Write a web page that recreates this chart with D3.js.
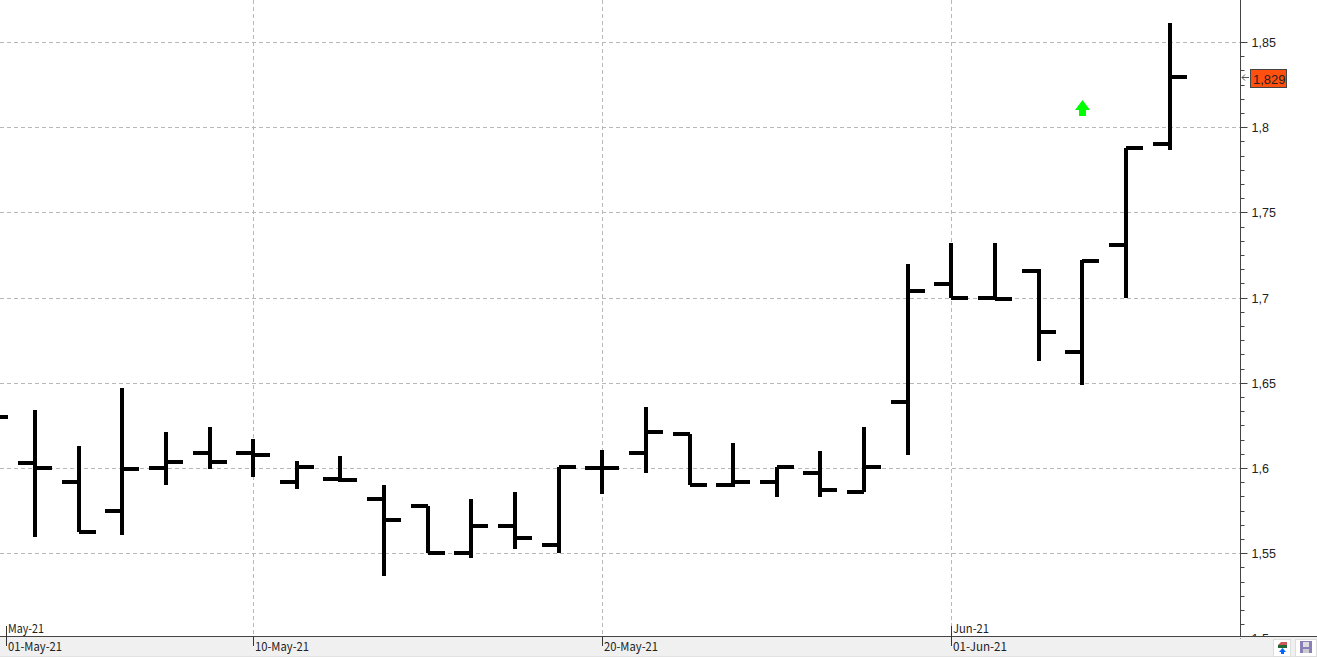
<!DOCTYPE html>
<html><head><meta charset="utf-8">
<script src="https://cdn.jsdelivr.net/npm/d3@7/dist/d3.min.js"></script>
<style>
html,body{margin:0;padding:0;background:#fff;overflow:hidden}
svg{display:block}
.y text{font:12.5px "Liberation Sans",Arial,sans-serif;fill:#222}
.d{font:12px "Noto Sans CJK KR","DejaVu Sans",sans-serif;fill:#222}
</style></head><body>
<svg id="c" width="1317" height="657"></svg>
<script>
const dates=["30-Apr","03-May","04-May","05-May","06-May","07-May","10-May","11-May","12-May","13-May","14-May","17-May","18-May","19-May","20-May","21-May","24-May","25-May","26-May","27-May","28-May","31-May","01-Jun","02-Jun","03-Jun","04-Jun","07-Jun","08-Jun"];
const opens=[1.63,1.603,1.592,1.575,1.6,1.609,1.609,1.592,1.5935,1.582,1.578,1.55,1.566,1.555,1.6,1.609,1.62,1.59,1.592,1.597,1.586,1.639,1.708,1.7,1.716,1.6685,1.731,1.7905];
const highs=[1.63,1.634,1.613,1.647,1.621,1.624,1.617,1.604,1.607,1.59,1.578,1.582,1.586,1.601,1.611,1.636,1.62,1.615,1.601,1.61,1.624,1.72,1.732,1.732,1.717,1.722,1.788,1.861];
const lows=[1.63,1.5596,1.5625,1.561,1.59,1.5995,1.595,1.588,1.592,1.5367,1.55,1.5475,1.5525,1.55,1.585,1.597,1.59,1.589,1.583,1.583,1.586,1.608,1.7,1.7,1.663,1.649,1.7,1.787];
const closes=[1.63,1.6,1.5625,1.5995,1.6035,1.6035,1.6075,1.601,1.593,1.5695,1.55,1.566,1.559,1.601,1.6,1.621,1.59,1.592,1.601,1.5875,1.601,1.704,1.7,1.6995,1.68,1.7215,1.788,1.8295];
const yMajor=[1.5,1.55,1.6,1.65,1.7,1.75,1.8,1.85];
const xGridDates=["10-May","20-May","01-Jun"];
const lowerLabels=[["01-May-21","03-May"],["10-May-21","10-May"],["20-May-21","20-May"],["01-Jun-21","01-Jun"]];
const upperLabels=[["May-21","03-May"],["Jun-21","01-Jun"]];
const lastValue="1,829";

const fmt=d=>String(d).replace(".",",");
const svg=d3.select("#c");
const axisX=1240.5, baseY=636.5;
const x=d3.scaleLinear().domain([0,dates.length-1]).range([-8.7,1169.6]);
const y=d3.scaleLinear().domain([1.5,1.85]).range([638.4,41.9]);
const ry=v=>Math.round(y(v));
const my=v=>Math.round(y(v)+0.3);
const xd=d=>Math.round(x(dates.indexOf(d)));
const firstTickX=6;
const tx=d=>d==="03-May"?firstTickX:xd(d);

svg.append("defs").append("clipPath").attr("id","p").append("rect").attr("x",0).attr("y",0).attr("width",1240).attr("height",636);

// grid
svg.append("g").selectAll("line").data(yMajor.slice(1)).join("line")
 .attr("x1",0).attr("x2",axisX).attr("y1",d=>ry(d)+.5).attr("y2",d=>ry(d)+.5)
 .attr("stroke","#b8b8b8").attr("stroke-dasharray","4 3");
svg.append("g").selectAll("line").data(xGridDates).join("line")
 .attr("x1",d=>xd(d)+.5).attr("x2",d=>xd(d)+.5).attr("y1",0).attr("y2",baseY)
 .attr("stroke","#b8b8b8").attr("stroke-dasharray","4 3");

// bottom panel
svg.append("rect").attr("x",0).attr("y",637).attr("width",1317).attr("height",19).attr("fill","#f0f0f0");

// y axis
const minor=d3.range(0,43).map(i=>1.5+i/120).filter(v=>!yMajor.some(m=>Math.abs(m-v)<1e-6));
const gY=svg.append("g").attr("class","y").attr("transform",`translate(${axisX},0)`);
gY.call(d3.axisRight(y).tickValues(minor).tickSize(4).tickFormat(""));
gY.select(".domain").remove();
const gYM=svg.append("g").attr("class","y").attr("transform",`translate(${axisX},0)`);
gYM.call(d3.axisRight(y).tickValues(yMajor).tickSize(7).tickPadding(4).tickFormat(fmt));
gYM.select(".domain").remove();
svg.selectAll(".y line").attr("stroke","#444");
svg.selectAll(".y .tick").attr("transform",d=>`translate(0,${ry(d)+.5})`);
svg.selectAll(".y .tick text").attr("fill","#222");
svg.append("rect").attr("x",1241).attr("y",637).attr("width",76).attr("height",19).attr("fill","#f0f0f0");
svg.append("line").attr("x1",axisX).attr("x2",axisX).attr("y1",0).attr("y2",baseY).attr("stroke","#444");
svg.append("line").attr("x1",0).attr("x2",1317).attr("y1",baseY).attr("y2",baseY).attr("stroke","#444");
svg.append("line").attr("x1",0).attr("x2",1317).attr("y1",656.5).attr("y2",656.5).attr("stroke","#e2e2e2");

// bars
const bars=svg.append("g").attr("clip-path","url(#p)").attr("shape-rendering","crispEdges").selectAll("g").data(dates.map((d,i)=>i)).join("g");
bars.append("line").attr("x1",i=>Math.round(x(i))).attr("x2",i=>Math.round(x(i)))
 .attr("y1",i=>my(highs[i])).attr("y2",i=>my(lows[i])).attr("stroke","#000").attr("stroke-width",4);
bars.append("line").attr("x1",i=>Math.round(x(i))-17).attr("x2",i=>Math.round(x(i)))
 .attr("y1",i=>my(opens[i])).attr("y2",i=>my(opens[i])).attr("stroke","#000").attr("stroke-width",4);
bars.append("line").attr("x1",i=>Math.round(x(i))).attr("x2",i=>Math.round(x(i))+17)
 .attr("y1",i=>my(closes[i])).attr("y2",i=>my(closes[i])).attr("stroke","#000").attr("stroke-width",4);

// date ticks and labels
const lw=s=>s.length*6;
svg.append("g").selectAll("line").data(lowerLabels).join("line")
 .attr("x1",d=>tx(d[1])+.5).attr("x2",d=>tx(d[1])+.5).attr("y1",baseY).attr("y2",646).attr("stroke","#333");
svg.append("g").selectAll("text").data(lowerLabels).join("text").attr("class","d")
 .attr("x",d=>tx(d[1])+2).attr("y",651).attr("textLength",d=>lw(d[0])).attr("lengthAdjust","spacingAndGlyphs").text(d=>d[0]);
svg.append("g").selectAll("line").data(upperLabels).join("line")
 .attr("x1",d=>tx(d[1])+.5).attr("x2",d=>tx(d[1])+.5).attr("y1",626).attr("y2",baseY).attr("stroke","#333");
svg.append("g").selectAll("text").data(upperLabels).join("text").attr("class","d")
 .attr("x",d=>tx(d[1])+2).attr("y",633).attr("textLength",d=>lw(d[0])).attr("lengthAdjust","spacingAndGlyphs").text(d=>d[0]);

// last price flag
const ly=ry(closes[closes.length-1]);
svg.append("rect").attr("x",1250.5).attr("y",69.5).attr("width",36).attr("height",18).attr("fill","#ff5010").attr("stroke","#444");
svg.append("text").attr("x",1253).attr("y",84).attr("font-family","Liberation Sans,Arial,sans-serif").attr("font-size",13).attr("fill","#222").text(lastValue);
svg.append("path").attr("d",`M1249 ${ly+.5}H1242M1245 ${ly-2.5}L1242 ${ly+.5}L1245 ${ly+3.5}`).attr("fill","none").attr("stroke","#555");

// green arrow
svg.append("path").attr("d","M1082.5 100L1090 110H1086V116H1079V110H1075Z").attr("fill","#00ff00");

// toolbar buttons
svg.append("rect").attr("x",1273.5).attr("y",639.5).attr("width",17).attr("height",17).attr("fill","#fff").attr("stroke","#ddd");
svg.append("rect").attr("x",1295.5).attr("y",639.5).attr("width",21).attr("height",17).attr("fill","#fff").attr("stroke","#ddd");
svg.append("path").attr("d","M1278 645L1281 642H1287V645Z").attr("fill","#c55");
svg.append("path").attr("d","M1278 645H1287V648H1278Z").attr("fill","#263");
svg.append("path").attr("d","M1282.5 648L1286 652H1284V654H1281V652H1279Z").attr("fill","#06f");
svg.append("rect").attr("x",1300).attr("y",641).attr("width",12).attr("height",12).attr("fill","#8a7fb8");
svg.append("rect").attr("x",1303).attr("y",642).attr("width",6).attr("height",5).attr("fill","#ddd");
svg.append("rect").attr("x",1303).attr("y",649).attr("width",6).attr("height",4).attr("fill","#ccc");
</script></body></html>
